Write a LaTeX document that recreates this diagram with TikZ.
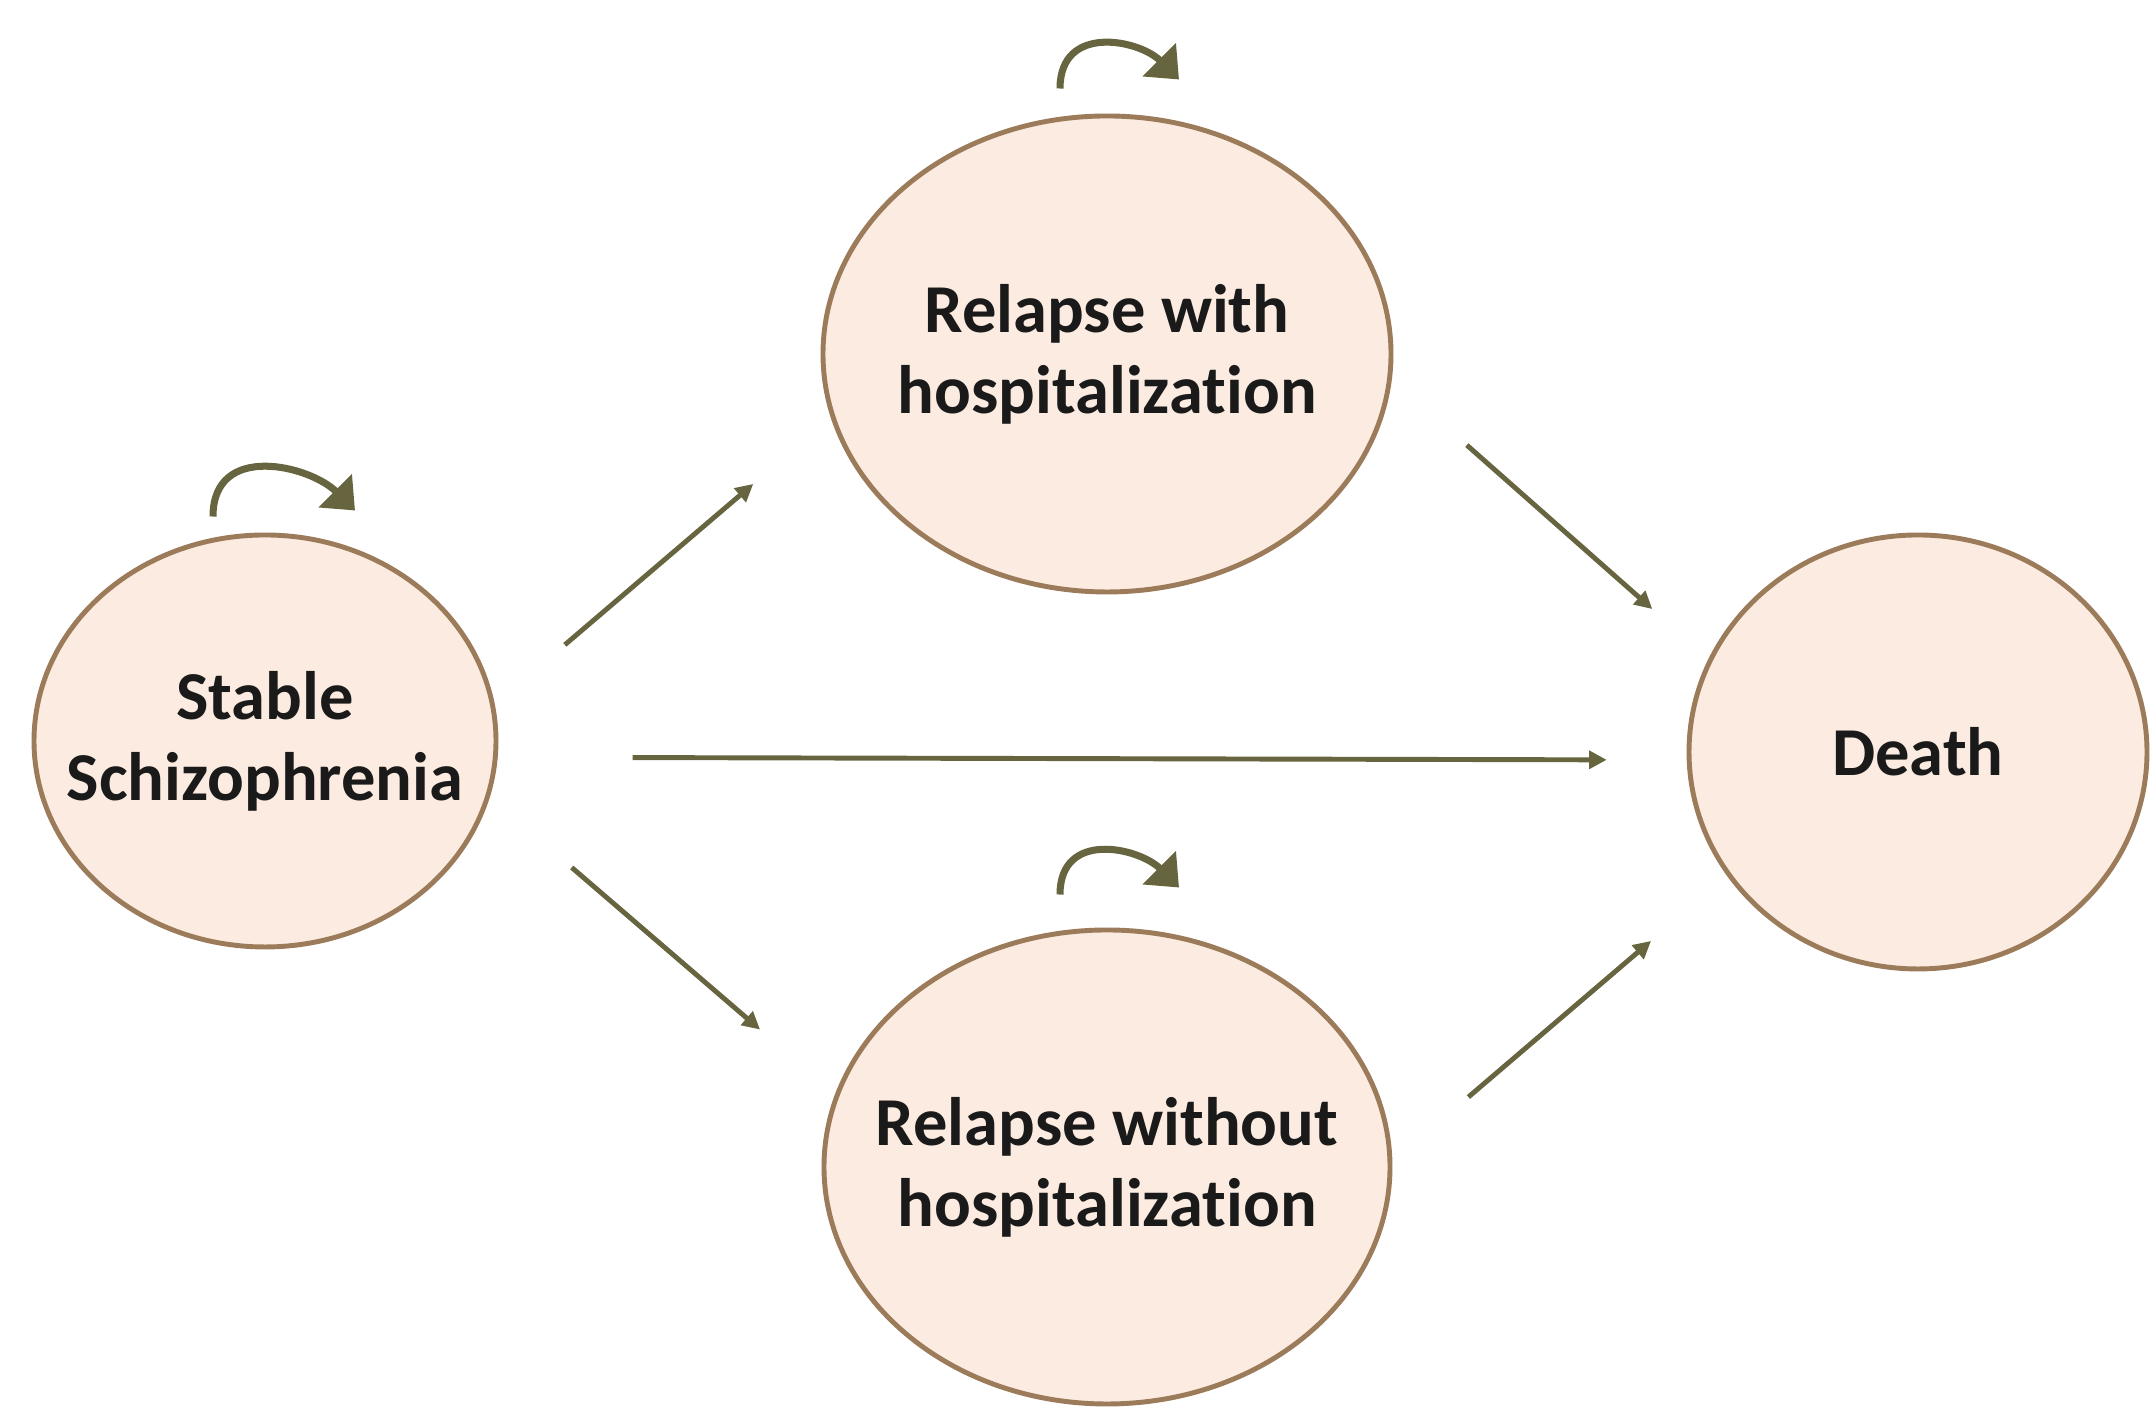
\documentclass[tikz,border=0pt]{standalone}
\usepackage{fontspec}
\setmainfont{Carlito}[Ligatures=NoCommon]
\usepackage{tikz}
\usetikzlibrary{shapes.geometric,arrows.meta}
\definecolor{statefill}{HTML}{FBEBE0}
\definecolor{stateline}{HTML}{9C7B5A}
\definecolor{arrowcol}{HTML}{66653F}
\definecolor{statetext}{HTML}{1A1A1A}
\tikzstyle{state} = [draw=stateline, fill=statefill, line width=1.4pt, text=statetext,
    ellipse, inner sep=-1cm, align=center, font=\fontsize{19.5}{23}\selectfont\bfseries]
\tikzstyle{trans} =[draw=arrowcol, line width=1.4pt, -{Triangle[width=5pt,length=5pt]}]
\tikzstyle{stay} =[draw=arrowcol, line width=2pt, -{Triangle[width=13pt,length=8pt]}]

\begin{document}
\begin{tikzpicture}
\useasboundingbox (0,0) rectangle (21.53,14.07);
\node [state, minimum width=4.62cm, minimum height=4.12cm] (stable) at (2.65,6.66) {Stable\\Schizophrenia};
\node [state, minimum width=5.68cm, minimum height=4.76cm] (relwith) at (11.07,10.53) {Relapse with\\hospitalization};
\node [state, minimum width=5.66cm, minimum height=4.74cm] (relwo) at (11.07,2.40) {Relapse without\\hospitalization};
\node [state, minimum width=4.58cm, minimum height=4.34cm] (death) at (19.18,6.55) {Death};

% transitions between states
\draw [trans, shorten <=0.92cm, shorten >=1.02cm] (stable.9) -- (relwith.193);
\draw [trans, shorten <=1.08cm, shorten >=0.99cm] (stable.-14) -- (relwo.165);
\draw [trans, shorten <=1.35cm, shorten >=0.8cm] (stable.-4) -- (death.182);
\draw [trans, shorten <=1.0cm, shorten >=0.75cm] (relwith.-5) -- (death.156);
\draw [trans, shorten <=1.0cm, shorten >=1.0cm] (relwo.1) -- (death.213);

% staying in the same state
\draw [stay] ([xshift=-0.52cm,yshift=0.16cm]stable.north) .. controls +(0,0.75) and +(-0.45,0.45) .. ([xshift=0.9cm,yshift=0.22cm]stable.north);
\draw [stay] ([xshift=-0.47cm,yshift=0.25cm]relwith.north) .. controls +(0,0.65) and +(-0.4,0.4) .. ([xshift=0.72cm,yshift=0.34cm]relwith.north);
\draw [stay] ([xshift=-0.47cm,yshift=0.33cm]relwo.north) .. controls +(0,0.65) and +(-0.4,0.4) .. ([xshift=0.72cm,yshift=0.4cm]relwo.north);
\end{tikzpicture}
\end{document}
